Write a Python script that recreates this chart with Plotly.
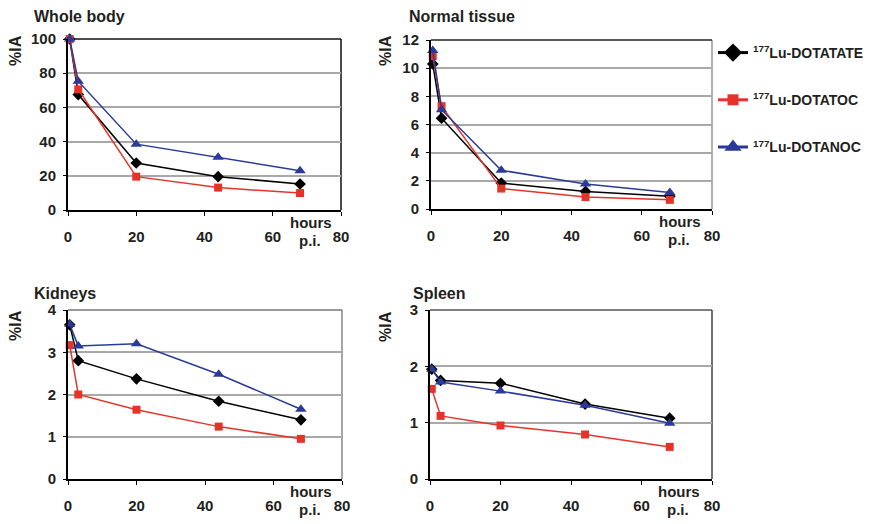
import plotly.graph_objects as go

# ---- data ----
series_names = ["<sup>177</sup>Lu-DOTATATE", "<sup>177</sup>Lu-DOTATOC", "<sup>177</sup>Lu-DOTANOC"]
hours = [0.5, 3, 20, 44, 68]

whole_body_dotatate = [100, 67.5, 27.5, 19.5, 15.2]
whole_body_dotatoc = [100, 70.5, 19.5, 13.1, 9.9]
whole_body_dotanoc = [100, 75.3, 38.5, 30.9, 23.0]

normal_dotatate = [10.3, 6.45, 1.84, 1.25, 0.9]
normal_dotatoc = [10.85, 7.3, 1.45, 0.85, 0.65]
normal_dotanoc = [11.25, 7.05, 2.75, 1.77, 1.17]

kidneys_dotatate = [3.65, 2.8, 2.37, 1.84, 1.40]
kidneys_dotatoc = [3.17, 2.0, 1.64, 1.24, 0.95]
kidneys_dotanoc = [3.66, 3.15, 3.2, 2.48, 1.65]

spleen_dotatate = [1.95, 1.75, 1.70, 1.33, 1.08]
spleen_dotatoc = [1.60, 1.12, 0.95, 0.79, 0.57]
spleen_dotanoc = [1.95, 1.72, 1.56, 1.31, 0.99]

panel_titles = ["Whole body", "Normal tissue", "Kidneys", "Spleen"]
y_max = [100, 12, 4, 3]
y_step = [20, 2, 1, 1]
x_ticks = [0, 20, 40, 60, 80]

# page body margin of the browser is 8px: the figure starts at (8, 8)
OFF = 8
W, H = 875 - OFF, 524 - OFF
colors = ["#000000", "#e5332a", "#2b3a98"]
symbols = ["diamond", "square", "triangle-up"]
msizes = [9, 8, 10]
legend_msizes = [14, 11, 15]
txt = "#231f20"
FONT = "Liberation Sans"


def px(x):
    return (x - OFF) / W


def py(y):
    return 1 - (y - OFF) / H


# panel boxes in window pixels (x0, x1, ytop, ybottom)
boxes = [(68, 341, 39, 210), (431, 712, 40, 209), (68, 342, 310, 479), (430, 712, 310, 479)]
title_pos = [(33, 16), (408, 16), (33, 293), (412, 293)]
ylab_pos = [(15, 51), (385, 51), (15, 326), (385, 327)]
hours_x = [311, 680, 311, 679]
top_border = ["#111111", "#222222", "#777777", "#555555"]
right_border = ["#111111", "#999999", "#888888", "#444444"]

panels = [
    [whole_body_dotatate, whole_body_dotatoc, whole_body_dotanoc],
    [normal_dotatate, normal_dotatoc, normal_dotanoc],
    [kidneys_dotatate, kidneys_dotatoc, kidneys_dotanoc],
    [spleen_dotatate, spleen_dotatoc, spleen_dotanoc],
]

fig = go.Figure()
layout = {}
annotations = []
shapes = []
for i, (x0, x1, yt, yb) in enumerate(boxes):
    n = "" if i == 0 else str(i + 1)
    xa, ya = "x" + n, "y" + n
    # right and top border (below the data)
    shapes.append(dict(type="line", xref=xa + " domain", yref=ya + " domain", layer="below",
                       x0=1, x1=1, y0=0, y1=1, line=dict(color=right_border[i], width=1.5)))
    shapes.append(dict(type="line", xref=xa + " domain", yref=ya + " domain", layer="below",
                       x0=0, x1=1, y0=1, y1=1, line=dict(color=top_border[i], width=1.5)))
    for s in range(3):
        fig.add_trace(go.Scatter(
            x=hours, y=panels[i][s], xaxis=xa, yaxis=ya, mode="lines+markers",
            name=series_names[s], showlegend=False,
            line=dict(color=colors[s], width=1.5),
            marker=dict(symbol=symbols[s], size=msizes[s], color=colors[s]),
            cliponaxis=False,
        ))
    layout["xaxis" + n] = dict(
        domain=[px(x0), px(x1)], anchor=ya, range=[0, 80], tickvals=x_ticks,
        showgrid=False, zeroline=False, showline=True, linecolor="#000000", linewidth=1.5,
        ticks="outside", ticklen=4, tickcolor="#000000", tickwidth=1,
        ticklabelstandoff=8, automargin=False,
        tickfont=dict(family=FONT, size=15, color=txt, weight="bold"),
    )
    layout["yaxis" + n] = dict(
        domain=[py(yb), py(yt)], anchor=xa, range=[0, y_max[i]],
        dtick=y_step[i], tick0=0,
        showgrid=True, gridcolor="#a8a8a8", gridwidth=1.5, zeroline=False,
        showline=True, linecolor="#000000", linewidth=2,
        ticks="outside", ticklen=3, tickcolor="#000000", tickwidth=1,
        ticklabelstandoff=4, automargin=False,
        tickfont=dict(family=FONT, size=15, color=txt, weight="bold"),
    )
    tx, ty = title_pos[i]
    annotations.append(dict(text="<b>%s</b>" % panel_titles[i], xref="paper", yref="paper",
                            x=px(tx), y=py(ty), xanchor="left", yanchor="middle", borderpad=0,
                            showarrow=False, font=dict(family=FONT, size=16, color=txt)))
    lx, ly = ylab_pos[i]
    annotations.append(dict(text="<b>%IA</b>", xref="paper", yref="paper",
                            x=px(lx), y=py(ly), xanchor="center", yanchor="middle",
                            textangle=-90, showarrow=False,
                            font=dict(family=FONT, size=16, color=txt)))
    hx = hours_x[i]
    annotations.append(dict(text="<b>hours</b>", xref="paper", yref="paper",
                            x=px(hx), y=py(yb + 12), xanchor="center", yanchor="middle",
                            showarrow=False, font=dict(family=FONT, size=15, color=txt)))
    annotations.append(dict(text="<b>p.i.</b>", xref="paper", yref="paper",
                            x=px(hx - 1), y=py(yb + 30), xanchor="center", yanchor="middle",
                            showarrow=False, font=dict(family=FONT, size=15, color=txt)))

# legend entries (series styles only, no data drawn)
for s in range(3):
    fig.add_trace(go.Scatter(
        x=[None], y=[None], mode="lines+markers", name=series_names[s],
        legendgroup="g%d" % s, showlegend=True,
        line=dict(color=colors[s], width=3),
        marker=dict(symbol=symbols[s], size=legend_msizes[s], color=colors[s]),
    ))

fig.update_layout(
    **layout,
    width=W, height=H, margin=dict(l=0, r=0, t=0, b=0, pad=0, autoexpand=False),
    paper_bgcolor="white", plot_bgcolor="white",
    annotations=annotations, shapes=shapes,
    showlegend=True,
    legend=dict(x=px(713), y=py(37), xanchor="left", yanchor="top",
                font=dict(family=FONT, size=14, color=txt, weight="bold"),
                tracegroupgap=26, itemwidth=30, itemsizing="trace",
                bgcolor="rgba(0,0,0,0)"),
)

fig.write_html("out.html")
